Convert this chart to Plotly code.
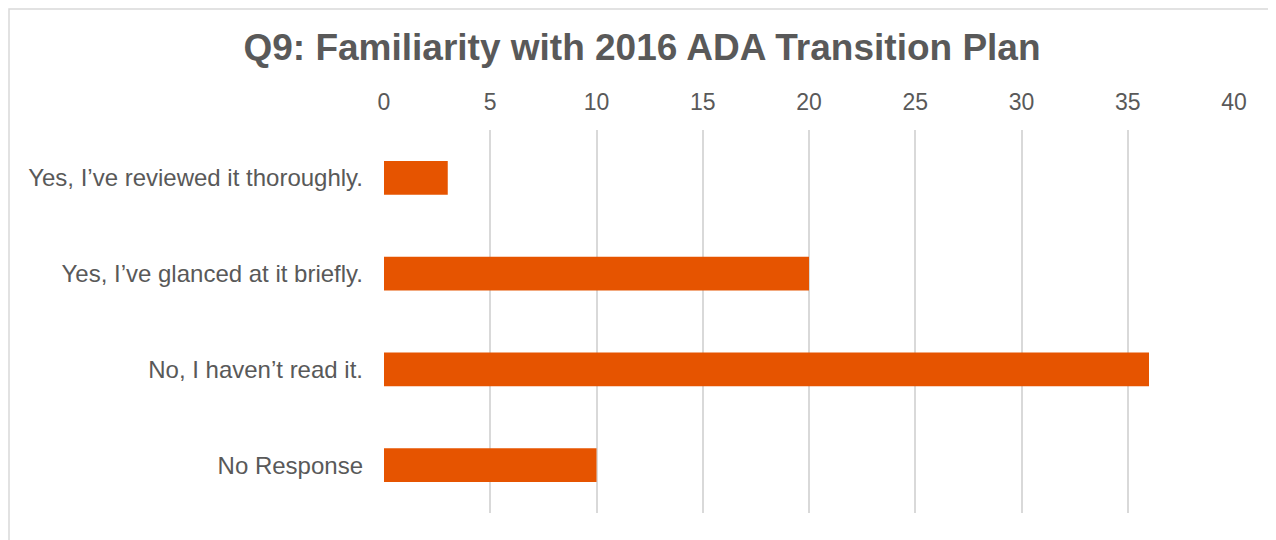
import plotly.graph_objects as go

categories = ["Yes, I\u2019ve reviewed it thoroughly.",
              "Yes, I\u2019ve glanced at it briefly.",
              "No, I haven\u2019t read it.",
              "No Response"]
values = [3, 20, 36, 10]
tick_vals = [0, 5, 10, 15, 20, 25, 30, 35, 40]

# page body has an 8px margin, so the figure is sized/placed to compensate
OFF = 8
W, H = 1276 - OFF, 540 - OFF
L, R, T, B = 384 - OFF, 42, 130 - OFF, 27

fig = go.Figure(go.Bar(
    x=values, y=categories, orientation="h",
    marker=dict(color="#E65400", line=dict(width=0)),
    hoverinfo="x+y",
))

fig.update_layout(
    width=W, height=H,
    margin=dict(l=L, r=R, t=T, b=B),
    paper_bgcolor="white", plot_bgcolor="white",
    bargap=0.645,
    showlegend=False,
    title=dict(text="<b>Q9: Familiarity with 2016 ADA Transition Plan</b>",
               x=(642 - OFF) / W, xanchor="center", y=1 - (47 - OFF) / H, yanchor="middle",
               font=dict(family="Liberation Sans, Arial, sans-serif", size=37, color="#595959")),
    font=dict(family="Liberation Sans, Arial, sans-serif", color="#595959"),
)

fig.update_xaxes(
    side="top", range=[0, 40], tickvals=tick_vals,
    showgrid=True, gridcolor="#D9D9D9", gridwidth=1.5,
    zeroline=False, showline=False,
    tickfont=dict(size=23, color="#595959"),
    ticklabelstandoff=14,
)
fig.update_yaxes(
    autorange="reversed", showgrid=False, zeroline=False, showline=False,
    tickfont=dict(size=24, color="#595959"),
    ticklabelstandoff=20,
)

# chart border (light gray frame, partially cropped)
pw, ph = W - L - R, H - T - B
fig.add_shape(type="rect", xref="paper", yref="paper",
              x0=(1 - L) / pw, x1=(W + 20 - L) / pw,
              y0=-(B + 20) / ph, y1=(H - B - 1) / ph,
              line=dict(color="#D9D9D9", width=1.5), layer="below")

fig.write_html("out.html")
